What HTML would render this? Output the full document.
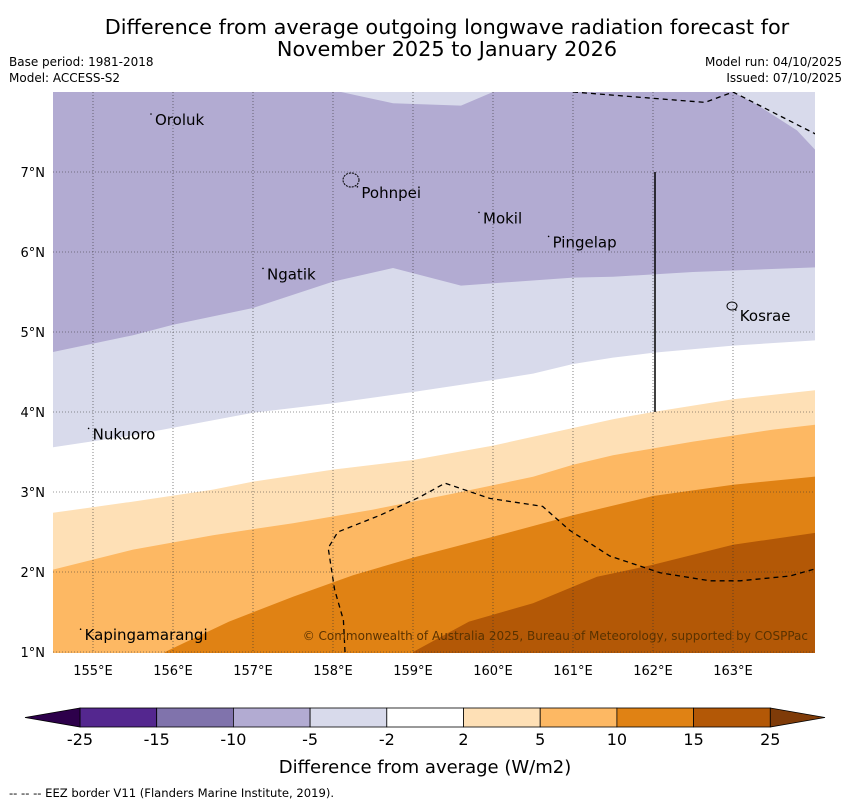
<!DOCTYPE html>
<html><head><meta charset="utf-8">
<style>
body{margin:0;background:#fff;width:850px;height:804px;overflow:hidden;font-family:"DejaVu Sans","Liberation Sans",sans-serif;}
svg{display:block}
</style></head>
<body>
<svg id="c" width="850" height="804" xmlns="http://www.w3.org/2000/svg">
<text x="447" y="34" font-size="20.8" text-anchor="middle">Difference from average outgoing longwave radiation forecast for</text>
<text x="447" y="56" font-size="20.8" text-anchor="middle">November 2025 to January 2026</text>
<text x="9" y="66" font-size="12">Base period: 1981-2018</text>
<text x="9" y="82" font-size="12">Model: ACCESS-S2</text>
<text x="842" y="66" font-size="12" text-anchor="end">Model run: 04/10/2025</text>
<text x="842" y="82" font-size="12" text-anchor="end">Issued: 07/10/2025</text>
<defs><clipPath id="mc"><rect x="53" y="92" width="762" height="561"/></clipPath></defs>
<g id="map" clip-path="url(#mc)"></g>
<g id="over"></g>
<g id="cb"></g>
<text x="425" y="773" font-size="18" text-anchor="middle">Difference from average (W/m2)</text>
<text x="9" y="797" font-size="11.6">--  --  -- EEZ border V11 (Flanders Marine Institute, 2019).</text>
</svg>
<script>
// ---- data ----
const lonTicks=[155,156,157,158,159,160,161,162,163];
const latTicks=[1,2,3,4,5,6,7];
const levels=["-25","-15","-10","-5","-2","2","5","10","15","25"];
const colors=["#54278f","#8073ac","#b2abd2","#d8daeb","#ffffff","#fee0b6","#fdb863","#e08214","#b35806"];
// contour boundaries: lon arrays and lat arrays
const bA_lon=[154.5,155.5,156,157,158,158.75,159.6,161,161.5,162.5,164.1];
const bA_lat=[4.75,4.96,5.09,5.3,5.63,5.8,5.58,5.68,5.69,5.75,5.81];
const bB_lon=[154.5,155.5,157,158,159,160,160.5,161,161.5,162,163,164.1];
const bB_lat=[3.56,3.71,3.99,4.11,4.25,4.4,4.48,4.6,4.68,4.74,4.83,4.9];
const bC_lon=[154.5,155.5,156.5,157,158,159,160,160.5,161,161.5,162,163,164.1];
const bC_lat=[2.74,2.88,3.03,3.13,3.28,3.4,3.58,3.69,3.8,3.91,4.0,4.16,4.28];
const bD_lon=[154.5,155.5,156.5,157.5,158.5,159.5,160.5,161,161.5,162.5,163.5,164.1];
const bD_lat=[2.03,2.28,2.46,2.61,2.78,2.98,3.19,3.34,3.46,3.63,3.78,3.85];
const bE_lon=[155.9,156.7,157.5,158.25,159,160,161,162,163,164.1];
const bE_lat=[1.0,1.38,1.69,1.96,2.18,2.44,2.71,2.95,3.09,3.2];
const bF_lon=[159,159.7,160.5,161.3,162,163,164.1];
const bF_lat=[1.0,1.38,1.61,1.94,2.09,2.34,2.5];
const topPatch1_lon=[158.1,158.75,159.6,160];
const topPatch1_lat=[8.0,7.86,7.83,8.0];
const topPatch2_lon=[163,163.3,163.8,164.1,164.1];
const topPatch2_lat=[8.0,7.84,7.52,7.2,8.0];
const eez1_lon=[161,162.65,163,164.1];
const eez1_lat=[8.0,7.87,8.0,7.44];
const eez2_lon=[158.15,158.13,158.02,157.94,158.06,158.59,159.09,159.4,159.96,160.62,160.96,161.46,162.09,162.71,163.09,163.71,164.1];
const eez2_lat=[1.0,1.4,1.78,2.3,2.5,2.71,2.94,3.11,2.92,2.82,2.52,2.2,1.99,1.89,1.89,1.95,2.06];
const places=["Oroluk","Pohnpei","Mokil","Pingelap","Ngatik","Kosrae","Nukuoro","Kapingamarangi"];
const placeLon=[155.75,158.33,159.85,160.72,157.15,163.06,154.97,154.87];
const placeLat=[7.65,6.74,6.42,6.12,5.72,5.2,3.72,1.21];
// ---- axes ----
const X=lon=>53+(lon-154.5)*80;
const Y=lat=>652-(lat-1)*80;
const NS="http://www.w3.org/2000/svg";
function mk(t,a,p){const e=document.createElementNS(NS,t);for(const k in a)e.setAttribute(k,a[k]);p.appendChild(e);return e;}
const map=document.getElementById('map'),over=document.getElementById('over'),cb=document.getElementById('cb');
const bg=mk('rect',{x:53,y:92,width:762,height:561,fill:colors[2]},map);


function below(lons,lats,col,name){
  let d='M'+X(lons[0])+','+Y(lats[0]);
  for(let i=1;i<lons.length;i++)d+=' L'+X(lons[i])+','+Y(lats[i]);
  d+=' L'+X(lons[lons.length-1])+','+(Y(1)+10)+' L'+X(lons[0])+','+(Y(1)+10)+' Z';
  const p=mk('path',{d:d,fill:col},map);
  
  
}
function poly(lons,lats,col,name){
  let d='M'+lons.map((l,i)=>X(l)+','+Y(lats[i])).join(' L')+' Z';
  const p=mk('path',{d:d,fill:col},map);
  
  
}
poly(topPatch1_lon,topPatch1_lat,colors[3],'region-top-minus5');
poly(topPatch2_lon,topPatch2_lat,colors[3],'region-topright-minus5');
below(bA_lon,bA_lat,colors[3],'region-minus5-minus2');
below(bB_lon,bB_lat,colors[4],'region-neutral');
below(bC_lon,bC_lat,colors[5],'region-2-5');
below(bD_lon,bD_lat,colors[6],'region-5-10');
below(bE_lon,bE_lat,colors[7],'region-10-15');
below(bF_lon,bF_lat,colors[8],'region-15-25');
// grid
lonTicks.forEach(l=>{
  const g=mk('line',{x1:X(l),x2:X(l),y1:92,y2:653,stroke:'#333','stroke-width':0.6,'stroke-dasharray':'1,2'},map);
  
  
  const t=mk('text',{x:X(l),y:675,'font-size':13,'text-anchor':'middle'},over);
  t.textContent=l+'°E';
  
  
});
latTicks.forEach(l=>{
  const g=mk('line',{x1:53,x2:815,y1:Y(l),y2:Y(l),stroke:'#333','stroke-width':0.6,'stroke-dasharray':'1,2'},map);
  
  
  const t=mk('text',{x:45,y:Y(l)+5,'font-size':13,'text-anchor':'end'},over);
  t.textContent=l+'°N';
  
  
});
function dline(lons,lats,name){
  const p=mk('polyline',{points:lons.map((l,i)=>X(l)+','+Y(lats[i])).join(' '),fill:'none',stroke:'#000','stroke-width':1.3,'stroke-dasharray':'5,4'},map);
  
  
}
dline(eez1_lon,eez1_lat,'eez-border-north');
dline(eez2_lon,eez2_lat,'eez-border-south');
const vl=mk('line',{x1:X(162)+2,x2:X(162)+2,y1:Y(7),y2:Y(4),stroke:'#000','stroke-width':1.5},map);


places.forEach((n,i)=>{
  const t=mk('text',{x:X(placeLon[i])+2,y:Y(placeLat[i])+5,'font-size':15},over);
  t.textContent=n;
  
  
  const d=mk('circle',{cx:X(placeLon[i])-2,cy:Y(placeLat[i])-6,r:0.8,fill:'#000'},over);
  
  
});
const isl=mk('ellipse',{cx:351,cy:180,rx:8,ry:7,fill:'none',stroke:'#000','stroke-width':1,'stroke-dasharray':'2,1'},over);


const isl2=mk('ellipse',{cx:732,cy:306,rx:5,ry:4,fill:'none',stroke:'#000','stroke-width':1},over);


const cr=mk('text',{x:808,y:640,'font-size':12,'text-anchor':'end',fill:'#5a3200'},over);
cr.textContent='© Commonwealth of Australia 2025, Bureau of Meteorology, supported by COSPPac';


// colorbar
const cx0=80,cw=76.7,cy=708,ch=19;
colors.forEach((c,i)=>{
  const r=mk('rect',{x:cx0+i*cw,y:cy,width:cw,height:ch,fill:c,stroke:'#000','stroke-width':0.8},cb);
  
  
});
const tl=mk('polygon',{points:`${cx0},${cy} 25,${cy+ch/2} ${cx0},${cy+ch}`,fill:'#2d004b',stroke:'#000','stroke-width':0.8},cb);


const xe=cx0+9*cw;
const tr=mk('polygon',{points:`${xe},${cy} 825,${cy+ch/2} ${xe},${cy+ch}`,fill:'#7f3b08',stroke:'#000','stroke-width':0.8},cb);


levels.forEach((l,i)=>{
  const t=mk('text',{x:cx0+i*cw,y:745,'font-size':16,'text-anchor':'middle'},cb);
  t.textContent=l;
  
  
});
</script>
</body></html>
